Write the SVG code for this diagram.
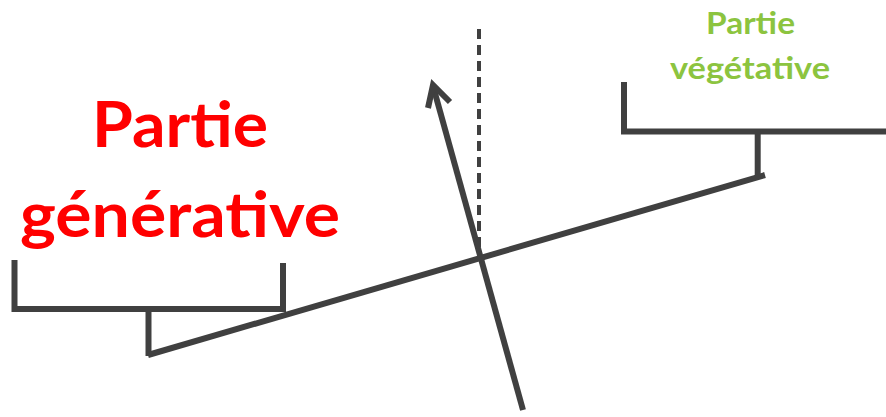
<svg xmlns="http://www.w3.org/2000/svg" width="886" height="417" viewBox="0 0 886 417">
<style>
.ln{fill:none;stroke:#404040;stroke-width:6;stroke-linecap:butt;stroke-linejoin:miter}
.red{font-family:Lato,"Open Sans","Liberation Sans",sans-serif;font-weight:bold;font-size:63px;fill:#ff0000;text-anchor:middle}
.grn{font-family:Lato,"Open Sans","Liberation Sans",sans-serif;font-weight:bold;font-size:31px;fill:#8cc43f;text-anchor:middle}
</style>
<rect width="886" height="417" fill="#ffffff"/>
<g id="label-generative">
<text class="red" x="180" y="147" textLength="176" lengthAdjust="spacingAndGlyphs">Partie</text>
<text class="red" x="180" y="237" textLength="320" lengthAdjust="spacingAndGlyphs">générative</text>
</g>
<g id="label-vegetative">
<text class="grn" x="750.5" y="34" textLength="89" lengthAdjust="spacingAndGlyphs">Partie</text>
<text class="grn" x="750" y="79" textLength="160" lengthAdjust="spacingAndGlyphs">végétative</text>
</g>
<g id="bracket-left">
<polyline class="ln" points="14.5,260 14.5,309 283,309 283,263"/>
<line class="ln" x1="148.5" y1="309" x2="148.5" y2="356"/>
</g>
<g id="bracket-right">
<polyline class="ln" points="624,82 624,131.5 886,131.5"/>
<line class="ln" x1="757.7" y1="131.5" x2="757.7" y2="176"/>
</g>
<g id="connectors">
<line class="ln" x1="148" y1="355" x2="765" y2="175"/>
<line x1="479" y1="29" x2="479" y2="252" stroke="#404040" stroke-width="4" stroke-dasharray="10,6"/>
<line class="ln" x1="523" y1="410" x2="433" y2="86"/>
<polyline class="ln" points="428,108 433,85 450,102" stroke-linecap="round" stroke-linejoin="round"/>
</g>
</svg>
